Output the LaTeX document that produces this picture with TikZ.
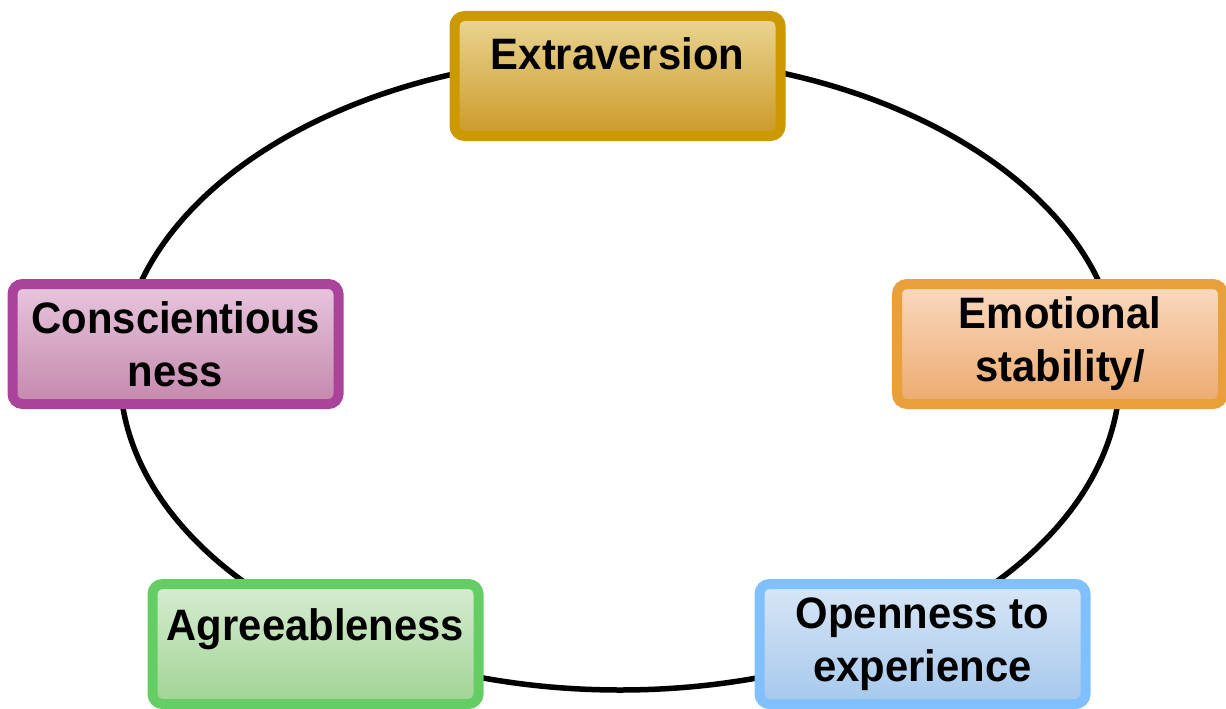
\documentclass[tikz,border=0pt]{standalone}
\usepackage{fontspec}
\setmainfont{Liberation Sans}[FakeStretch=0.95]
\usetikzlibrary{shapes.geometric}
\definecolor{exB}{RGB}{204,153,0}
\definecolor{exT}{RGB}{234,213,148}
\definecolor{exD}{RGB}{204,154,40}
\definecolor{emB}{RGB}{234,160,58}
\definecolor{emT}{RGB}{249,218,192}
\definecolor{emD}{RGB}{236,170,110}
\definecolor{opB}{RGB}{128,192,255}
\definecolor{opT}{RGB}{216,230,246}
\definecolor{opD}{RGB}{166,200,236}
\definecolor{coB}{RGB}{170,68,155}
\definecolor{coT}{RGB}{232,198,222}
\definecolor{coD}{RGB}{196,136,172}
\definecolor{agB}{RGB}{100,205,100}
\definecolor{agT}{RGB}{216,236,210}
\definecolor{agD}{RGB}{160,212,148}
\tikzset{
  trait/.style={rectangle, rounded corners=10pt, line width=10pt,
    minimum width=326pt, minimum height=120pt, inner sep=4pt,
    align=center, font=\bfseries\fontsize{44}{53}\selectfont, text=black},
  ring/.style={ellipse, draw=black, line width=5.5pt,
    minimum width=1000pt, minimum height=634pt, inner sep=0pt}
}
\begin{document}
\begin{tikzpicture}[x=1pt,y=-1pt]
\useasboundingbox (0,0) rectangle (1226,709);
\node[ring] (cycle) at (620,373) {};
\node[trait, draw=exB, top color=exT, bottom color=exD, text height=31pt, text depth=43pt] (extra) at (617.5,76) {Extraversion};
\node[trait, draw=emB, top color=emT, bottom color=emD] (emot) at (1060,344) {Emotional\\stability/};
\node[trait, draw=opB, top color=opT, bottom color=opD] (open) at (922.5,644) {Openness to\\experience};
\node[trait, draw=coB, top color=coT, bottom color=coD] (consc) at (175.5,344) {Conscientious\\ness};
\node[trait, draw=agB, top color=agT, bottom color=agD, text height=31pt, text depth=39pt] (agree) at (315.5,644) {Agreeableness};
\end{tikzpicture}
\end{document}
